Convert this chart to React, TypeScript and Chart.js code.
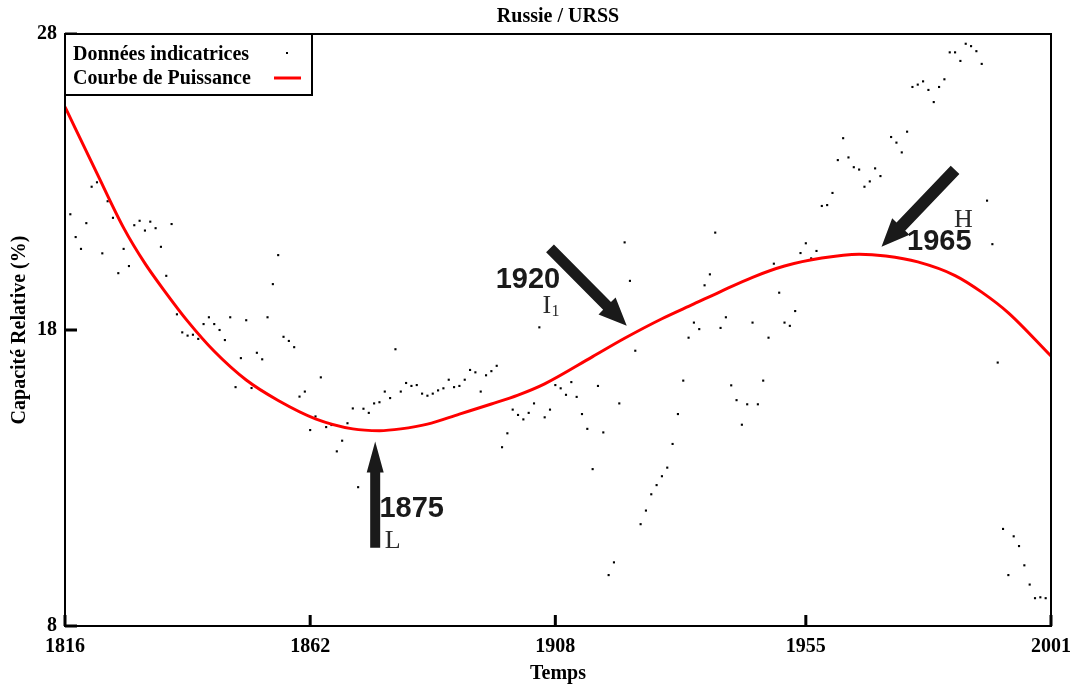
import React, { useEffect, useRef } from "react";
import { Chart, registerables } from "chart.js";

Chart.register(...registerables);

// ---------- data ----------
const TITLE = "Russie / URSS";
const X_TITLE = "Temps";
const Y_TITLE = "Capacité Relative (%)";
const X_TICKS = [1816, 1862, 1908, 1955, 2001];
const Y_TICKS = [8, 18, 28];
const DOT_LABEL = "Données indicatrices";
const CURVE_LABEL = "Courbe de Puissance";

// one indicative value per year, starting 1817 (null = not visible)
const DOT_START_YEAR = 1817;
const DOT_VALUES: (number | null)[] = [
  21.91, 21.14, 20.74, 21.61, 22.84, 22.99, 20.59, 22.35, 21.79, 19.92, // 1817-1826
  20.74, 20.16, 21.54, 21.69, 21.36, 21.66, 21.44, 20.81, 19.83, 21.58, // 1827-1836
  18.53, 17.92, 17.81, 17.84, 17.7, 18.2, 18.43, 18.2, 18.0, 17.66, // 1837-1846
  18.43, 16.07, 17.05, 18.33, 16.04, 17.23, 17.01, 18.43, 19.55, 20.53, // 1847-1856
  17.77, 17.63, 17.42, 15.75, 15.92, 14.62, 15.08, 16.4, 14.72, 14.79, // 1857-1866
  13.9, 14.26, 14.85, 15.35, 12.69, 15.34, 15.2, 15.52, 15.56, 15.92, // 1867-1876
  15.7, 17.35, 15.92, 16.21, 16.11, 16.14, 15.85, 15.78, 15.85, 15.96, // 1877-1886
  16.03, 16.32, 16.07, 16.11, 16.32, 16.65, 16.57, 15.92, 16.47, 16.61, // 1887-1896
  16.79, 14.04, 14.51, 15.31, 15.13, 14.98, 15.2, 15.52, 18.09, 15.05, // 1897-1906
  15.31, 16.14, 16.03, 15.81, 16.24, 15.74, 15.16, 14.66, 13.3, 16.11, // 1907-1916
  14.54, 9.72, 10.15, 15.52, 20.96, 19.66, 17.3, 11.44, 11.9, 12.45, // 1917-1926
  12.76, 13.06, 13.35, 14.15, 15.16, 16.29, 17.74, 18.25, 18.03, 19.51, // 1927-1936
  19.88, 21.29, 18.07, 18.43, 16.13, 15.63, 14.8, 15.49, 18.25, 15.49, // 1937-1946
  16.29, 17.74, 20.24, 19.26, 18.25, 18.14, 18.64, 20.6, 20.93, 20.42, // 1947-1956
  20.67, 22.19, 22.22, 22.63, 23.74, 24.48, 23.83, 23.5, 23.42, 22.84, // 1957-1966
  23.02, 23.46, 23.2, null, 24.52, 24.33, 24.0, 24.7, 26.21, 26.29, // 1967-1976
  26.4, 26.11, 25.7, 26.21, 26.47, 27.38, 27.38, 27.09, 27.67, 27.59, // 1977-1986
  27.42, 26.99, 22.37, 20.9, 16.9, 11.28, 9.72, 11.03, 10.7, 10.05, // 1987-1996
  9.4, 8.94, 8.97, 8.94, // 1997-2000
];

const CURVE_YEARS = [
  1816, 1822, 1827, 1831, 1835, 1839, 1844, 1850, 1856, 1863, 1870, 1875, 1879,
  1884, 1890, 1896, 1901, 1906, 1915, 1921, 1928, 1934, 1939, 1945, 1951, 1958,
  1965, 1970, 1976, 1983, 1988, 1993, 2001,
];
const CURVE_VALUES = [
  25.54, 23.29, 21.45, 20.25, 19.24, 18.3, 17.28, 16.31, 15.62, 15.0, 14.66, 14.6, 14.66,
  14.82, 15.16, 15.5, 15.8, 16.18, 17.1, 17.72, 18.38, 18.88, 19.3, 19.78, 20.16, 20.43,
  20.56, 20.5, 20.3, 19.84, 19.28, 18.58, 17.12,
];

// annotations (data coordinates)
const ARROWS = [
  { fromX: 1874.2, fromY: 10.64, toX: 1874.2, toY: 14.23, shaft: 10, headW: 17, headL: 31 },
  { fromX: 1907.0, fromY: 20.76, toX: 1921.4, toY: 18.14, shaft: 11, headW: 24, headL: 28 },
  { fromX: 1983.0, fromY: 23.41, toX: 1969.2, toY: 20.81, shaft: 12, headW: 24, headL: 28 },
];
const NOTE_SANS = "bold 29px 'Liberation Sans', Arial, sans-serif";
const NOTE_SERIF = "26px 'Liberation Serif', 'Times New Roman', serif";
const NOTE_SUB = "16px 'Liberation Serif', 'Times New Roman', serif";
const NOTES = [
  { text: "1875", x: 1875.0, y: 11.68, font: NOTE_SANS },
  { text: "L", x: 1876.0, y: 10.64, font: NOTE_SERIF },
  { text: "1920", x: 1896.8, y: 19.42, font: NOTE_SANS },
  { text: "I", x: 1905.6, y: 18.57, font: NOTE_SERIF },
  { text: "1", x: 1907.3, y: 18.47, font: NOTE_SUB },
  { text: "1965", x: 1974.0, y: 20.7, font: NOTE_SANS },
  { text: "H", x: 1982.8, y: 21.48, font: NOTE_SERIF },
];

// ---------- styles ----------
const SERIF = "'Liberation Serif', 'Times New Roman', serif";
const BOLD20 = { family: SERIF, size: 20, weight: "bold" as const };
const CURVE_COLOR = "#ff0000";
const INK = "#000000";
const NOTE_INK = "#1a1a1a";

function drawArrow(ctx: CanvasRenderingContext2D, x1: number, y1: number, x2: number, y2: number, shaft: number, headW: number, headL: number) {
  const dx = x2 - x1;
  const dy = y2 - y1;
  const len = Math.hypot(dx, dy);
  const ux = dx / len;
  const uy = dy / len;
  const px = -uy;
  const py = ux;
  const bx = x2 - ux * headL;
  const by = y2 - uy * headL;
  const s = shaft / 2;
  const h = headW / 2;
  ctx.beginPath();
  ctx.moveTo(x1 + px * s, y1 + py * s);
  ctx.lineTo(bx + px * s, by + py * s);
  ctx.lineTo(bx + px * h, by + py * h);
  ctx.lineTo(x2, y2);
  ctx.lineTo(bx - px * h, by - py * h);
  ctx.lineTo(bx - px * s, by - py * s);
  ctx.lineTo(x1 - px * s, y1 - py * s);
  ctx.closePath();
  ctx.fill();
}

const framePlugin = {
  id: "frameAndNotes",
  afterDraw(chart: any) {
    const { ctx, chartArea: a, scales } = chart;
    const xs = scales.x;
    const ys = scales.y;
    ctx.save();

    // frame
    ctx.strokeStyle = INK;
    ctx.lineWidth = 2;
    ctx.strokeRect(a.left, a.top, a.right - a.left, a.bottom - a.top);

    // inward tick marks
    ctx.lineWidth = 3;
    ctx.beginPath();
    for (const v of Y_TICKS) {
      const y = ys.getPixelForValue(v);
      ctx.moveTo(a.left, y);
      ctx.lineTo(a.left + 12, y);
    }
    for (const v of X_TICKS) {
      const x = xs.getPixelForValue(v);
      ctx.moveTo(x, a.bottom);
      ctx.lineTo(x, a.bottom - 11);
    }
    ctx.stroke();

    // legend box
    const lx = a.left;
    const ly = a.top;
    const lw = 247;
    const lh = 61;
    ctx.fillStyle = "#ffffff";
    ctx.fillRect(lx, ly, lw, lh);
    ctx.lineWidth = 2;
    ctx.strokeStyle = INK;
    ctx.strokeRect(lx, ly, lw, lh);
    ctx.fillStyle = INK;
    ctx.font = `bold 20px ${SERIF}`;
    ctx.textAlign = "left";
    ctx.textBaseline = "alphabetic";
    ctx.fillText(DOT_LABEL, lx + 8, ly + 26);
    ctx.fillText(CURVE_LABEL, lx + 8, ly + 50);
    ctx.fillRect(lx + 221, ly + 18, 2, 2);
    ctx.strokeStyle = CURVE_COLOR;
    ctx.lineWidth = 3;
    ctx.beginPath();
    ctx.moveTo(lx + 209, ly + 44);
    ctx.lineTo(lx + 236, ly + 44);
    ctx.stroke();

    // arrows
    ctx.fillStyle = NOTE_INK;
    for (const ar of ARROWS) {
      drawArrow(
        ctx,
        xs.getPixelForValue(ar.fromX),
        ys.getPixelForValue(ar.fromY),
        xs.getPixelForValue(ar.toX),
        ys.getPixelForValue(ar.toY),
        ar.shaft,
        ar.headW,
        ar.headL
      );
    }
    // notes
    for (const n of NOTES) {
      ctx.font = n.font;
      ctx.fillStyle = n.font === NOTE_SANS ? NOTE_INK : "#2a2a2a";
      ctx.fillText(n.text, xs.getPixelForValue(n.x), ys.getPixelForValue(n.y));
    }
    ctx.restore();
  },
};

export default function App() {
  const ref = useRef<HTMLCanvasElement | null>(null);

  useEffect(() => {
    if (!ref.current) return;
    const dots = DOT_VALUES.map((v, i) => ({ x: DOT_START_YEAR + i, y: v })).filter(
      (p) => p.y !== null
    );
    const curve = CURVE_YEARS.map((yr, i) => ({ x: yr, y: CURVE_VALUES[i] }));

    const chart = new Chart(ref.current, {
      type: "scatter",
      data: {
        datasets: [
          {
            label: DOT_LABEL,
            data: dots as any,
            pointStyle: "rect",
            pointRadius: 1.5,
            pointBorderWidth: 0,
            pointBackgroundColor: INK,
            pointBorderColor: INK,
            showLine: false,
            order: 1,
          },
          {
            label: CURVE_LABEL,
            data: curve,
            showLine: true,
            borderColor: CURVE_COLOR,
            borderWidth: 3,
            pointRadius: 0,
            cubicInterpolationMode: "monotone",
            fill: false,
            order: 0,
          },
        ],
      },
      options: {
        animation: false,
        responsive: true,
        maintainAspectRatio: false,
        layout: { padding: { top: 0, right: 33, bottom: 0, left: 0 } },
        plugins: {
          legend: { display: false },
          tooltip: { enabled: false },
          title: {
            display: true,
            text: TITLE,
            fullSize: false,
            color: INK,
            font: BOLD20,
            padding: { top: 5, bottom: 5 },
          },
        },
        scales: {
          x: {
            type: "linear",
            min: 1816,
            max: 2001,
            afterBuildTicks: (s: any) => {
              s.ticks = X_TICKS.map((v) => ({ value: v }));
            },
            afterFit: (s: any) => {
              s.height = 66;
            },
            grid: { display: false, drawTicks: false },
            border: { display: false },
            ticks: {
              color: INK,
              font: BOLD20,
              padding: 9,
              maxRotation: 0,
              autoSkip: false,
              callback: (v: any) => String(v),
            },
            title: {
              display: true,
              text: X_TITLE,
              color: INK,
              font: BOLD20,
              padding: { top: 0, bottom: 6 },
            },
          },
          y: {
            type: "linear",
            min: 8,
            max: 28,
            afterBuildTicks: (s: any) => {
              s.ticks = Y_TICKS.map((v) => ({ value: v }));
            },
            afterFit: (s: any) => {
              s.width = 65;
            },
            grid: { display: false, drawTicks: false },
            border: { display: false },
            ticks: {
              color: INK,
              font: BOLD20,
              padding: 8,
              callback: (v: any) => String(v),
            },
            title: {
              display: true,
              text: Y_TITLE,
              color: INK,
              font: BOLD20,
              padding: { top: 8, bottom: 0 },
            },
          },
        },
      },
      plugins: [framePlugin],
    });
    return () => chart.destroy();
  }, []);

  return (
    <div
      style={{
        position: "absolute",
        left: 0,
        top: 0,
        width: 1084,
        height: 692,
        background: "#ffffff",
      }}
    >
      <canvas ref={ref} />
    </div>
  );
}
